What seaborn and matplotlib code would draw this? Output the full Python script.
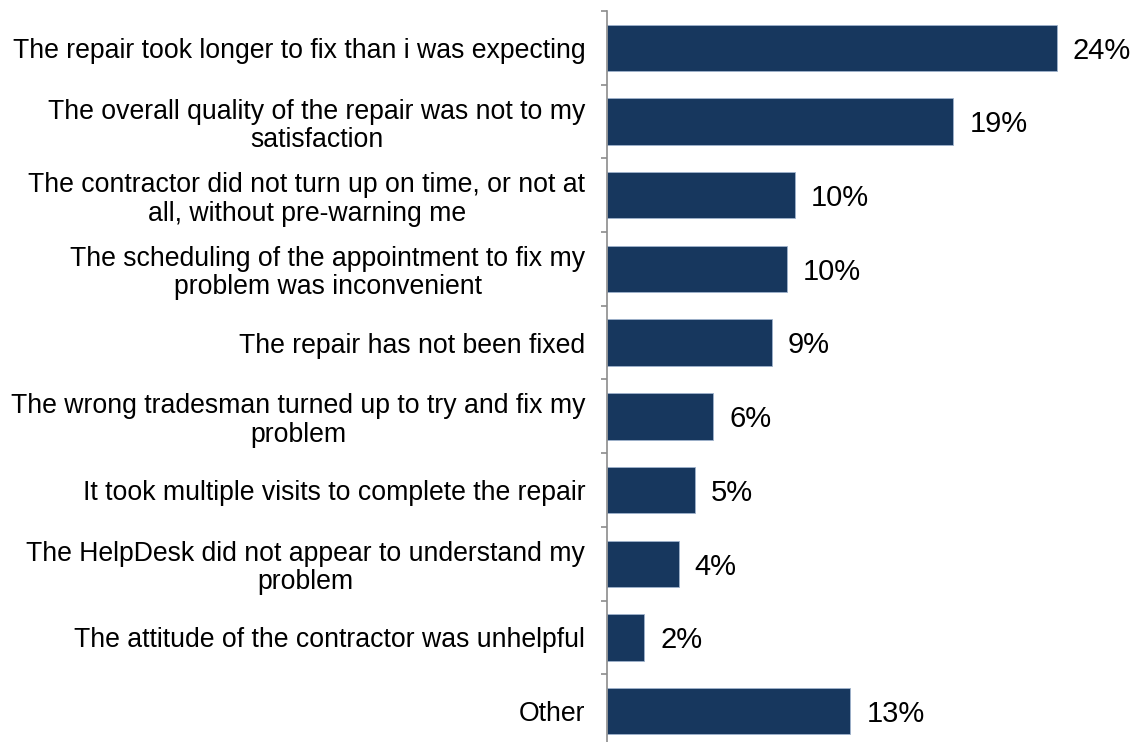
import numpy as np
import pandas as pd
import matplotlib
matplotlib.use("Agg")
import matplotlib.pyplot as plt
import seaborn as sns

categories = [
    "The repair took longer to fix than i was expecting",
    "The overall quality of the repair was not to my\nsatisfaction",
    "The contractor did not turn up on time, or not at\nall, without pre-warning me",
    "The scheduling of the appointment to fix my\nproblem was inconvenient",
    "The repair has not been fixed",
    "The wrong tradesman turned up to try and fix my\nproblem",
    "It took multiple visits to complete the repair",
    "The HelpDesk did not appear to understand my\nproblem",
    "The attitude of the contractor was unhelpful",
    "Other",
]
percent = [24.16, 18.6, 10.09, 9.66, 8.83, 5.68, 4.69, 3.83, 1.97, 13.06]

df = pd.DataFrame({"reason": categories, "pct": percent})

sns.set_theme(style="white")
plt.rcParams["font.family"] = ["Liberation Sans", "DejaVu Sans"]

W, H = 1139, 742
fig = plt.figure(figsize=(W / 100, H / 100), dpi=100)
ax_left = 607.5
ax_top = 11
row_px = 73.7
ax_h = row_px * len(categories)
ax = fig.add_axes([ax_left / W, (H - ax_top - ax_h) / H,
                   (W - ax_left) / W, ax_h / H])

sns.barplot(data=df, y="reason", x="pct", orient="h", ax=ax,
            color="#17375E", saturation=1, width=0.63,
            edgecolor="#9fb3cc", linewidth=0.6)

ax.set_xlim(0, (W - ax_left) / 18.6)
ax.set_ylim(len(categories) - 0.5, -0.5)
ax.set_xlabel("")
ax.set_ylabel("")
ax.set_xticks([])

for s in ["top", "right", "bottom"]:
    ax.spines[s].set_visible(False)
ax.spines["left"].set_color("#8c8c8c")
ax.spines["left"].set_linewidth(1.2)

ax.set_yticks(np.arange(len(categories)))
ax.set_yticklabels(categories)
ax.set_yticks(np.arange(-0.5, len(categories), 1), minor=True)
ax.tick_params(axis="y", which="major", length=0, pad=16, labelsize=19.2,
               labelcolor="black")
ax.tick_params(axis="y", which="minor", left=True, length=4.5, width=1.2,
               color="#8c8c8c", direction="out")
for lbl in ax.get_yticklabels():
    lbl.set_multialignment("center")
    lbl.set_linespacing(1.12)

for container in ax.containers:
    texts = ax.bar_label(container,
                         labels=[f"{v:.0f}%" for v in container.datavalues],
                         padding=11.5, fontsize=21, color="black")
    for t in texts:
        t.xyann = (11.5, -2)

fig.savefig("out.png", dpi=100, facecolor="white")
